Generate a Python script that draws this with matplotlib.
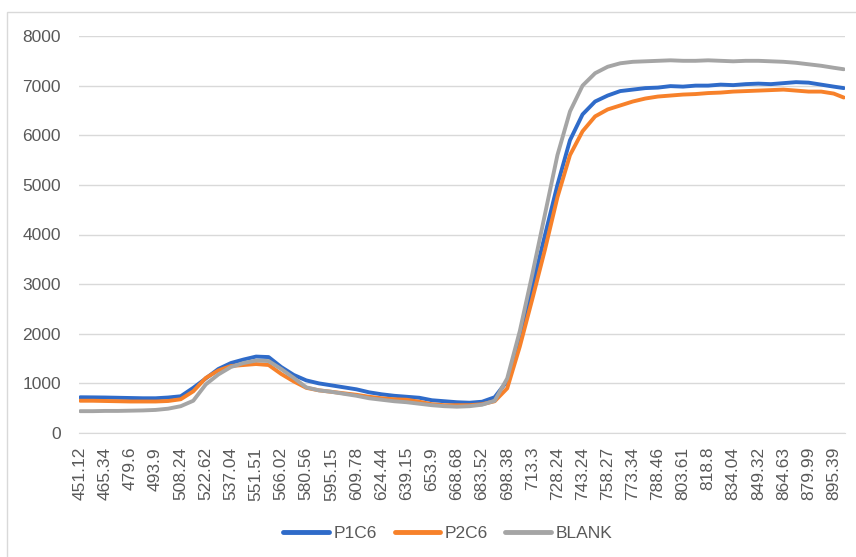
import numpy as np
import matplotlib
matplotlib.use("Agg")
import matplotlib.pyplot as plt
from matplotlib.patches import Rectangle

# wavelength labels shown on the category axis (one every 10 samples)
wl_labels = ["451.12", "465.34", "479.6", "493.9", "508.24", "522.62", "537.04",
             "551.51", "566.02", "580.56", "595.15", "609.78", "624.44", "639.15",
             "653.9", "668.68", "683.52", "698.38", "713.3", "728.24", "743.24",
             "758.27", "773.34", "788.46", "803.61", "818.8", "834.04", "849.32",
             "864.63", "879.99", "895.39"]

# readings every 5 samples (half a label step), last one is the final sample
p1c6 = [720, 718, 715, 710, 705, 700, 700, 715, 740, 910,
        1100, 1290, 1410, 1480, 1540, 1530, 1330, 1170, 1060, 1000,
        960, 920, 880, 820, 780, 750, 730, 710, 660, 640,
        620, 610, 630, 720, 1050, 1900, 2950, 3980, 5000, 5900,
        6420, 6680, 6800, 6890, 6920, 6950, 6960, 6990, 6980, 7000,
        7000, 7020, 7010, 7030, 7040, 7030, 7050, 7070, 7060, 7020,
        6980, 6950]
p2c6 = [650, 650, 645, 640, 635, 635, 635, 645, 680, 840,
        1110, 1260, 1350, 1370, 1390, 1370, 1190, 1040, 910, 860,
        830, 800, 770, 730, 700, 680, 670, 630, 580, 560,
        560, 560, 580, 640, 900, 1740, 2700, 3690, 4750, 5600,
        6080, 6380, 6520, 6600, 6680, 6740, 6780, 6800, 6820, 6830,
        6850, 6860, 6880, 6890, 6900, 6910, 6920, 6900, 6880, 6880,
        6840, 6760]
blank = [440, 440, 445, 445, 450, 455, 465, 490, 540, 650,
         980, 1180, 1330, 1410, 1460, 1450, 1290, 1110, 920, 860,
         830, 790, 750, 700, 670, 640, 620, 590, 560, 540,
         530, 540, 570, 650, 1100, 2050, 3200, 4400, 5600, 6480,
         7000, 7250, 7380, 7450, 7480, 7490, 7500, 7510, 7500, 7500,
         7510, 7500, 7490, 7500, 7500, 7490, 7480, 7460, 7430, 7400,
         7360, 7330]

n_samples = 305
idx = np.append(np.arange(len(p1c6) - 1) * 5, n_samples - 1)

fig = plt.figure(figsize=(8.56, 5.57), dpi=100)
ax = fig.add_axes([79 / 856, 1 - 433 / 557, 766 / 856, 397 / 557])

ax.plot(idx, p1c6, color="#2F6BC9", lw=2.8, label="P1C6", solid_capstyle="round")
ax.plot(idx, p2c6, color="#F7812A", lw=2.8, label="P2C6", solid_capstyle="round")
ax.plot(idx, blank, color="#A5A5A5", lw=2.8, label="BLANK", solid_capstyle="round")

ax.set_xlim(-0.5, n_samples - 0.5)
ax.set_ylim(0, 8000)
ax.set_yticks(np.arange(0, 8001, 1000))
ax.set_xticks(np.arange(len(wl_labels)) * 10)
ax.set_xticklabels(wl_labels, rotation=90)
ax.grid(axis="y", color="#D9D9D9", lw=1)
ax.set_axisbelow(True)
for s in ["top", "right", "left"]:
    ax.spines[s].set_visible(False)
ax.spines["bottom"].set_color("#D9D9D9")
ax.tick_params(axis="both", length=0, colors="#595959", labelsize=12.5)
ax.tick_params(axis="x", pad=10)
ax.tick_params(axis="y", pad=13)
for t in ax.get_xticklabels() + ax.get_yticklabels():
    t.set_fontfamily("Liberation Sans")

leg = fig.legend(loc="center", bbox_to_anchor=(448 / 856, 1 - 533 / 557), ncol=3,
                 frameon=False, handlelength=2.6, columnspacing=1.0, handletextpad=0.3,
                 prop={"family": "Liberation Sans", "size": 12.5})
for t in leg.get_texts():
    t.set_color("#595959")
for h in leg.get_lines():
    h.set_linewidth(3.5)

# chart border
fig.patches.append(Rectangle((7 / 856, -0.05), 1.0, 1 - 12 / 557 + 0.05,
                             transform=fig.transFigure, fill=False,
                             edgecolor="#D9D9D9", lw=1))

fig.savefig("out.png", dpi=100)
